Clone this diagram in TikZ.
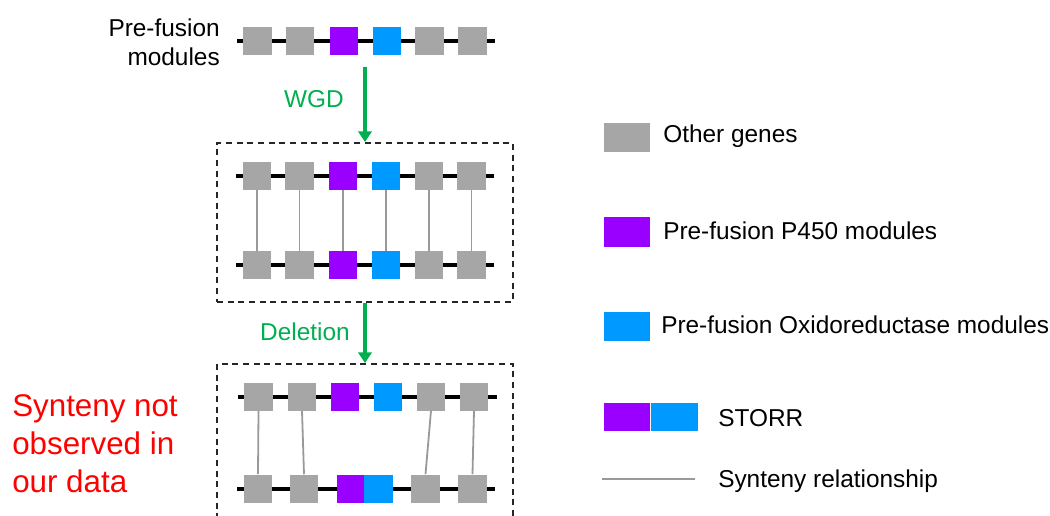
\documentclass[tikz,border=0pt]{standalone}
\usepackage{fontspec}
\setmainfont{Liberation Sans}
\usetikzlibrary{arrows.meta}
\definecolor{genegray}{HTML}{A6A6A6}
\definecolor{p450}{HTML}{9900FF}
\definecolor{oxred}{HTML}{0099FF}
\definecolor{syngray}{HTML}{999999}
\definecolor{arrgreen}{HTML}{00B050}
\definecolor{dashcol}{HTML}{262626}
\tikzset{
  gene/.style={rectangle, inner sep=0pt, minimum width=21.5pt, minimum height=21pt, fill=genegray},
  pgene/.style={gene, fill=p450},
  ogene/.style={gene, fill=oxred},
  chrom/.style={line width=3pt, black},
  synline/.style={line width=1.35pt, syngray},
  dashbox/.style={rectangle, draw=dashcol, line width=1.5pt, dash pattern=on 4.5pt off 3.5pt, inner sep=0pt},
  evo/.style={line width=2.3pt, arrgreen, -{Triangle[width=10pt,length=8pt]}},
  lbl/.style={font=\fontsize{18.3}{21.5}\selectfont, inner sep=0pt},
  glbl/.style={lbl, text=arrgreen},
}
\begin{document}
\begin{tikzpicture}[x=0.75pt,y=-0.75pt]
\useasboundingbox (0,0) rectangle (1050,515);
% ---------- top row ----------
\draw[chrom] (237,41) -- (495,41);
\node[gene]  (a1) at (257.5,41) {};
\node[gene]  (a2) at (300,41) {};
\node[pgene] (a3) at (344,41) {};
\node[ogene] (a4) at (387,41) {};
\node[gene]  (a5) at (429.5,41) {};
\node[gene]  (a6) at (472.5,41) {};
\node[lbl, anchor=east, align=right] (pre) at (220,42) {Pre-fusion\\modules};
% ---------- box 1 ----------
\node[dashbox, minimum width=222pt, minimum height=119.25pt] (box1) at (365,222.5) {};
\draw[chrom] (236,176) -- (494,176);
\draw[chrom] (236,265) -- (494,265);
\node[gene]  (b1) at (257,176) {};
\node[gene]  (b2) at (299.5,176) {};
\node[pgene] (b3) at (343,176) {};
\node[ogene] (b4) at (386,176) {};
\node[gene]  (b5) at (429,176) {};
\node[gene]  (b6) at (471.5,176) {};
\node[gene]  (c1) at (257,265) {};
\node[gene]  (c2) at (299.5,265) {};
\node[pgene] (c3) at (343,265) {};
\node[ogene] (c4) at (386,265) {};
\node[gene]  (c5) at (429,265) {};
\node[gene]  (c6) at (471.5,265) {};
\foreach \i in {1,...,6} {\draw[synline] (b\i.south) -- (c\i.north);}
% ---------- box 2 ----------
\begin{scope}
\clip (0,0) rectangle (1050,515);
\node[dashbox, minimum width=222pt, minimum height=132pt] (box2) at (365,452) {};
\end{scope}
\draw[chrom] (238,396.5) -- (497,396.5);
\draw[chrom] (237,488.5) -- (495,488.5);
\node[gene]  (d1) at (258.5,396.5) {};
\node[gene]  (d2) at (302,396.5) {};
\node[pgene] (d3) at (345,396.5) {};
\node[ogene] (d4) at (388,396.5) {};
\node[gene]  (d5) at (431,396.5) {};
\node[gene]  (d6) at (474,396.5) {};
\node[gene]  (e1) at (258,488.5) {};
\node[gene]  (e2) at (304,488.5) {};
\node[pgene, minimum width=20.5pt] (e3) at (350.5,488.5) {};
\node[ogene, minimum width=21.5pt] (e4) at (378.5,488.5) {};
\node[gene]  (e5) at (425.5,488.5) {};
\node[gene]  (e6) at (472.5,488.5) {};
\draw[synline] (d1.south) -- (e1.north);
\draw[synline] (d2.south) -- (e2.north);
\draw[synline] (d5.south) -- (e5.north);
\draw[synline] (d6.south) -- (e6.north);
% ---------- arrows ----------
\coordinate (wgdstart) at (365,67);
\draw[evo] (wgdstart) -- (box1.north);
\draw[evo] (box1.south) -- (box2.north);
\node[glbl] (wgd) at (314,99) {WGD};
\node[glbl] (del) at (305,332) {Deletion};
% ---------- red note ----------
\node[anchor=west, align=left, inner sep=0pt, text=red, font=\fontsize{23.5}{28.5}\selectfont] (note) at (12,444) {Synteny not\\observed in\\our data};
% ---------- legend ----------
\node[gene, minimum width=34.5pt, minimum height=21.75pt] (lg1) at (627,137.5) {};
\node[lbl, anchor=west] (lt1) at (663,136) {Other genes};
\node[pgene, minimum width=34.5pt, minimum height=22.5pt] (lg2) at (627,232) {};
\node[lbl, anchor=west] (lt2) at (663,231) {Pre-fusion P450 modules};
\node[ogene, minimum width=34.5pt, minimum height=21.75pt] (lg3) at (627,326.5) {};
\node[lbl, anchor=west] (lt3) at (661,325) {Pre-fusion Oxidoreductase modules};
\node[pgene, minimum width=34.5pt, minimum height=21pt] (lg4a) at (627,417) {};
\node[ogene, minimum width=35.25pt, minimum height=21pt, anchor=west] (lg4b) at (lg4a.east) {};
\node[lbl, anchor=west] (lt4) at (718,418) {STORR};
\coordinate (ls1) at (602,479);
\coordinate (ls2) at (695,479);
\draw[synline] (ls1) -- (ls2);
\node[lbl, anchor=west] (lt5) at (718,481) {Synteny relationship};
\end{tikzpicture}
\end{document}
